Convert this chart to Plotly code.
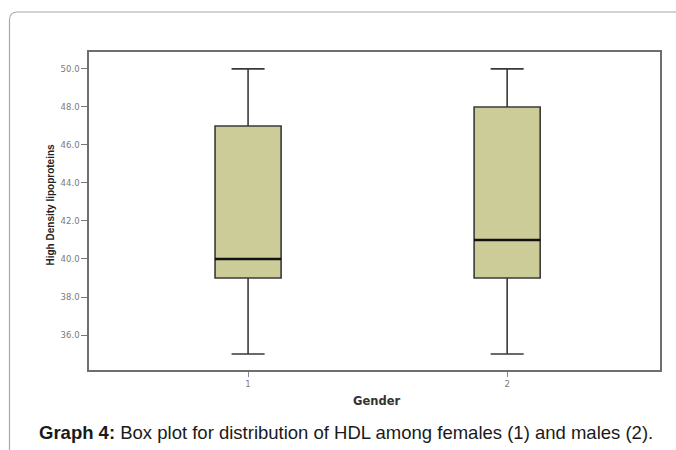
import plotly.graph_objects as go

# ---- data ----
genders = [1, 2]
gender_labels = ["1", "2"]
lower_whisker = [35.0, 35.0]
q1 = [39.0, 39.0]
median = [40.0, 41.0]
q3 = [47.0, 48.0]
upper_whisker = [50.0, 50.0]
y_ticks = [36.0, 38.0, 40.0, 42.0, 44.0, 46.0, 48.0, 50.0]

# ---- layout geometry (pixels) ----
W_FIG, H_FIG = 676, 450
L, R, T, B = 89, 16, 52, 80
PW, PH = W_FIG - L - R, H_FIG - T - B

def px(x):
    return (x - L) / PW

def py(y):
    return (T + PH - y) / PH

BOX_W = 0.255
fig = go.Figure()
fig.add_trace(go.Box(
    x=genders, q1=q1, median=median, q3=q3,
    lowerfence=lower_whisker, upperfence=upper_whisker,
    width=BOX_W, whiskerwidth=0.5,
    fillcolor="#cccc99",
    line=dict(color="#3a3a3a", width=1.6),
    boxpoints=False, showlegend=False, hoverinfo="skip",
))
# darker median lines
for g, m in zip(genders, median):
    fig.add_trace(go.Scatter(
        x=[g - BOX_W / 2, g + BOX_W / 2], y=[m, m], mode="lines",
        line=dict(color="#111111", width=2.6), showlegend=False, hoverinfo="skip",
    ))

tick_font = dict(family="DejaVu Sans, sans-serif", size=8.5, color="#7a7a7a")
fig.update_layout(
    width=W_FIG, height=H_FIG,
    margin=dict(l=L, r=R, t=T, b=B),
    paper_bgcolor="white", plot_bgcolor="white",
    xaxis=dict(
        range=[0.386, 2.59], tickmode="array", tickvals=genders, ticktext=gender_labels,
        ticks="outside", ticklen=5, tickcolor="#888", tickfont=tick_font,
        showgrid=False, zeroline=False, showline=True, linecolor="#6e6e6e", linewidth=1.5,
        mirror=True,
    ),
    yaxis=dict(
        range=[34.16, 50.89], tickmode="array", tickvals=y_ticks,
        ticktext=[f"{v:.1f}" for v in y_ticks],
        ticks="outside", ticklen=6, tickcolor="#777", tickfont=tick_font,
        ticklabelstandoff=0,
        showgrid=False, zeroline=False, showline=True, linecolor="#6e6e6e", linewidth=1.5,
        mirror=True,
    ),
    font=dict(family="Liberation Sans, Arial, sans-serif"),
)

# outer rounded frame (top and left edges visible)
fig.add_shape(
    type="path", xref="paper", yref="paper",
    path=(f"M {px(9.5)},{py(470)} L {px(9.5)},{py(20)} "
          f"Q {px(9.5)},{py(12)} {px(17.5)},{py(12)} L {px(700)},{py(12)}"),
    line=dict(color="#a8a8a8", width=1.2),
)

# axis titles
fig.add_annotation(
    x=px(42), y=py(205), xref="paper", yref="paper", showarrow=False,
    text="<b>High Density lipoproteins</b>", textangle=-90,
    font=dict(family="Liberation Sans, Arial, sans-serif", size=10, color="#222222"),
)
fig.add_annotation(
    x=px(376), y=py(410), xref="paper", yref="paper", showarrow=False,
    text="<b>Gender</b>",
    font=dict(family="DejaVu Sans, sans-serif", size=11.5, color="#333333"),
)

# caption
fig.add_annotation(
    x=px(37), y=py(432), xref="paper", yref="paper", showarrow=False,
    xanchor="left", yanchor="middle",
    text="<b>Graph 4:</b> Box plot for distribution of HDL among females (1) and males (2).",
    font=dict(family="Liberation Sans, Arial, sans-serif", size=18.5, color="#1a1a1a"),
)

fig.write_html("out.html")
